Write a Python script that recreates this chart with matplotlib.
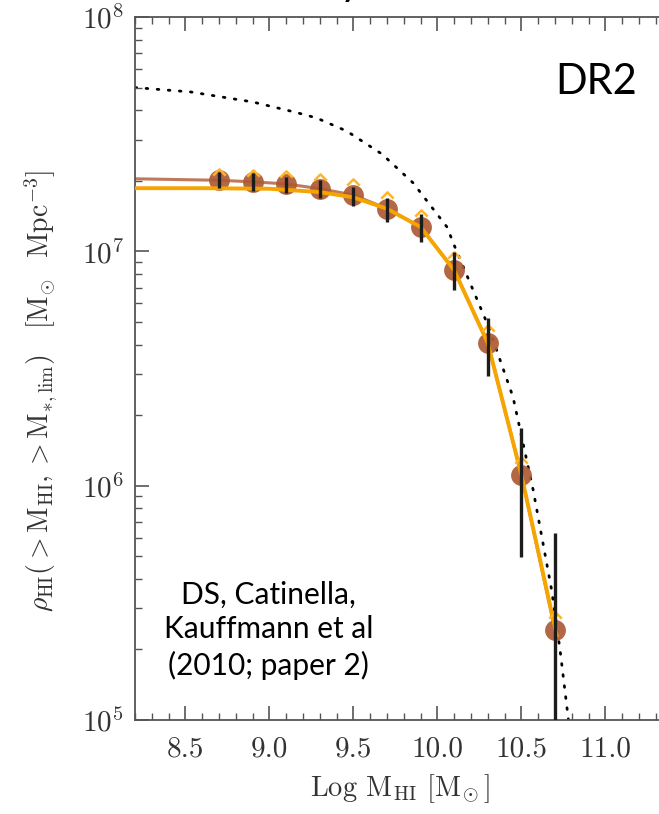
import matplotlib
matplotlib.use("Agg")
import matplotlib.pyplot as plt
from matplotlib.ticker import MultipleLocator, FormatStrFormatter, LogLocator, NullFormatter
import numpy as np

# binned HI mass density (cumulative), log M_HI bins
log_mhi = [8.7, 8.9, 9.1, 9.3, 9.5, 9.7, 9.9, 10.1, 10.3, 10.5, 10.7]
rho = [2.01e7, 1.98e7, 1.94e7, 1.85e7, 1.74e7, 1.52e7, 1.27e7, 8.32e6, 4.06e6, 1.11e6, 2.42e5]
rho_hi = [2.18e7, 2.16e7, 2.08e7, 2.01e7, 1.88e7, 1.69e7, 1.44e7, 9.93e6, 5.19e6, 1.76e6, 6.28e5]
rho_lo = [1.86e7, 1.81e7, 1.77e7, 1.69e7, 1.56e7, 1.33e7, 1.10e7, 6.84e6, 2.94e6, 4.96e5, 1.0e4]

# lower limits (upward carets)
rho_limit = [2.18e7, 2.16e7, 2.14e7, 2.08e7, 1.97e7, 1.74e7, 1.46e7, 9.65e6, 4.71e6, 1.29e6, 2.8e5]

# flat extension of the binned curve to the low-mass end
brown_x = [8.2] + log_mhi
brown_y = [2.04e7] + rho

# fitted curve
fit_x = [8.2, 8.6, 9.0, 9.3, 9.5, 9.7, 9.9, 10.1, 10.3, 10.5, 10.71]
fit_y = [1.86e7, 1.86e7, 1.85e7, 1.79e7, 1.70e7, 1.52e7, 1.27e7, 8.3e6, 4.06e6, 1.11e6, 2.3e5]

# integrated HI mass function (no stellar mass limit)
mf_x = [8.2, 8.53, 8.9, 9.15, 9.28, 9.46, 9.67, 9.855, 10.057, 10.105, 10.3, 10.45, 10.57, 10.68, 10.73, 10.78, 10.82]
mf_y = [5.0e7, 4.79e7, 4.34e7, 3.93e7, 3.71e7, 3.26e7, 2.60e7, 1.96e7, 1.27e7, 1.04e7, 4.85e6, 2.39e6, 9.58e5, 3.58e5, 1.99e5, 1.0e5, 6e4]

plt.rcParams['font.family'] = 'cmr10'
plt.rcParams['mathtext.fontset'] = 'cm'
plt.rcParams['axes.unicode_minus'] = False

txt_col = '#333333'

fig = plt.figure(figsize=(6.59, 8.14), dpi=100)
ax = fig.add_axes([0.2049, 0.1155, 0.8285, 0.8636])

ax.plot(mf_x, mf_y, color='black', lw=2.0, linestyle=(0, (0.6, 3.4)),
        dash_capstyle='round', zorder=1)
ax.plot(brown_x, brown_y, color='#bf7a5c', lw=2.2, zorder=2)
ax.plot(log_mhi, rho, 'o', color='#ad5a34', ms=15, mec='none', alpha=0.92, zorder=3)
ax.plot(fit_x, fit_y, color='#f5a400', lw=2.8, zorder=4)
caret = [(-1, -0.5), (0, 0.5), (1, -0.5)]
ax.plot(log_mhi, rho_limit, linestyle='none', marker=caret, ms=9,
        mfc='none', mec='#ffb42a', mew=1.8, zorder=5)
err = [np.array(rho) - np.array(rho_lo), np.array(rho_hi) - np.array(rho)]
ax.errorbar(log_mhi, rho, yerr=err, fmt='none', ecolor='#1c1c1c',
            elinewidth=2.4, capsize=0, zorder=6)

ax.set_yscale('log')
ax.set_xlim(8.2, 11.45)
ax.set_ylim(1e5, 1e8)

ax.xaxis.set_major_locator(MultipleLocator(0.5))
ax.xaxis.set_minor_locator(MultipleLocator(0.1))
ax.xaxis.set_major_formatter(FormatStrFormatter('%.1f'))
ax.yaxis.set_minor_locator(LogLocator(base=10, subs=np.arange(2, 10)))
ax.yaxis.set_minor_formatter(NullFormatter())

ax.tick_params(which='both', direction='in', top=True, right=False,
               color='#555555', labelcolor=txt_col, labelsize=21)
ax.tick_params(which='major', length=10, width=1.2, pad=12)
ax.tick_params(which='minor', length=5, width=1.0)
ax.tick_params(axis='y', which='major', pad=8)

for side in ['left', 'bottom', 'top']:
    ax.spines[side].set_color('#555555')
    ax.spines[side].set_linewidth(1.3)
ax.spines['right'].set_visible(False)

fig.text(0.607, 0.022, r'Log ${\rm M_{HI}}$ $[{\rm M}_{\!\odot}]$', ha='center',
         va='baseline', fontsize=20.5, color=txt_col)
fig.text(0.062, 0.52,
         r'$\rho_{\rm HI}({>}{\rm M_{HI}},{>}{\rm M_{*,lim}})\ \ \ [{\rm M}_{\!\odot}\ \ {\rm Mpc^{-3}}]$',
         rotation=90, ha='center', va='center', fontsize=20, color=txt_col)

# descender of the panel title running off the top edge
fig.text(350 / 659, 1.006, 'y', ha='center', va='baseline', fontsize=30,
         family='Lato', color='black')

ax.text(0.845, 0.907, 'DR2', transform=ax.transAxes, ha='center', va='center',
        fontsize=30, family='Lato', color='black')
ax.text(0.244, 0.128, 'DS, Catinella,\nKauffmann et al\n(2010; paper 2)',
        transform=ax.transAxes, ha='center', va='center', fontsize=21.5,
        family='Lato', color='black', linespacing=1.3)

fig.savefig('out.png', dpi=100)
